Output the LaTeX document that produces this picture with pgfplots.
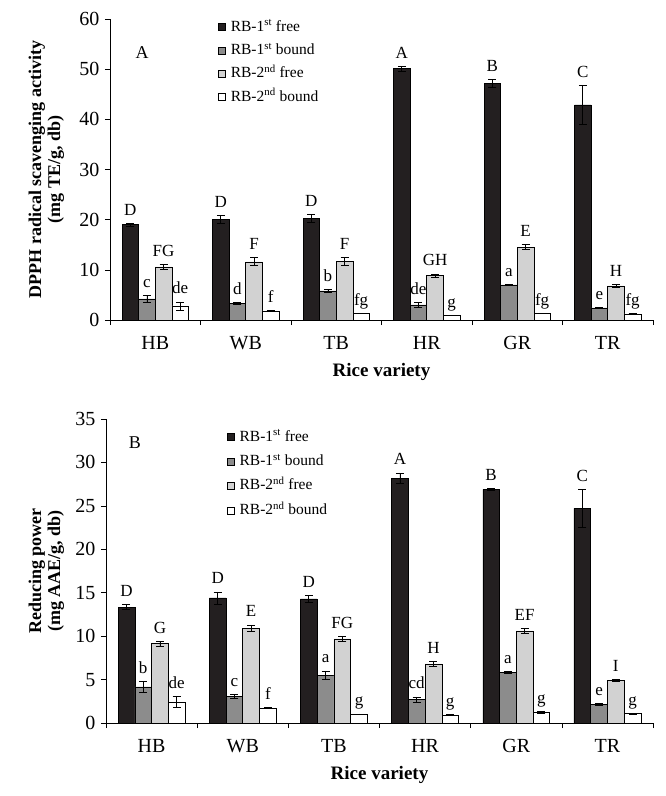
\documentclass[border=0pt]{standalone}
\usepackage{pgfplots}
\pgfplotsset{compat=1.18}
\usepackage{pgfplotstable}
\usepackage{fontspec}
\setmainfont{Liberation Serif}

\definecolor{cfreeA}{HTML}{231F20}
\definecolor{cbndA}{HTML}{8C8C8C}
\definecolor{cfreeB}{HTML}{D2D2D2}

% DPPH (panel A): mean, error, letter for each extract
\pgfplotstableread{
g f1 e1 l1 b1 eb1 lb1 f2 e2 l2 b2 eb2 lb2
1 19.0 0.3 D 4.2 0.7 c 10.6 0.5 FG 2.8 0.8 de
2 20.1 0.8 D 3.3 0.2 d 11.6 0.8 F 1.8 0.1 f
3 20.2 0.8 D 5.8 0.3 b 11.7 0.8 F 1.3 0.05 fg
4 50.1 0.5 A 3.0 0.5 de 8.9 0.3 GH 0.9 0.05 g
5 47.1 0.8 B 7.0 0.1 a 14.5 0.5 E 1.3 0.05 fg
6 42.9 3.9 C 2.4 0.1 e 6.8 0.3 H 1.2 0.1 fg
}\dataA

% Reducing power (panel B)
\pgfplotstableread{
g f1 e1 l1 b1 eb1 lb1 f2 e2 l2 b2 eb2 lb2
1 13.35 0.3 D 4.15 0.6 b 9.13 0.3 G 2.4 0.65 de
2 14.4 0.7 D 3.06 0.2 c 10.9 0.4 E 1.7 0.05 f
3 14.3 0.4 D 5.5 0.5 a 9.7 0.25 FG 1.0 0.05 g
4 28.2 0.6 A 2.7 0.3 cd 6.8 0.3 H 0.9 0.05 g
5 26.9 0.15 B 5.8 0.1 a 10.6 0.3 EF 1.2 0.1 g
6 24.7 2.2 C 2.15 0.1 e 4.9 0.1 I 1.1 0.05 g
}\dataB

\pgfplotsset{
  rbaxis/.style={
    scale only axis,
    axis x line*=bottom, axis y line*=left,
    axis line style={-, black, line width=0.6pt},
    xmin=0.5, xmax=6.5, ymin=0,
    xtick={1,...,6}, xticklabels={HB,WB,TB,HR,GR,TR},
    minor xtick={0.5,1.5,...,6.5},
    major x tick style={draw=none},
    tick align=outside,
    major tick length=5pt, minor tick length=5pt,
    tick style={black, line width=0.6pt},
    /pgf/number format/assume math mode=true,
    tick label style={font=\fontsize{20}{20}\selectfont},
    xticklabel style={yshift=-8pt},
    yticklabel style={xshift=-2pt},
    xlabel={\textbf{Rice variety}},
    xlabel style={at={(axis description cs:0.5,0)}, anchor=center, yshift=-52pt,
      font=\fontsize{19}{19}\selectfont},
    ylabel style={anchor=center, align=center, font=\fontsize{18}{19}\selectfont\bfseries},
    legend cell align=left,
    legend image code/.code={\draw[##1, draw=black, line width=0.5pt] (0pt,-3.5pt) rectangle (7pt,3.5pt);},
    legend style={draw=none, fill=none, inner sep=0pt, column sep=5pt,
      font=\fontsize{15.5}{15.5}\selectfont,
      nodes={inner sep=0pt, text height=11pt, text depth=3pt}},
  },
  rbbar/.style={ybar, bar width=0.1835, bar shift=0pt, draw=black, line width=0.5pt,
    error bars/y dir=both, error bars/y explicit,
    error bars/error bar style={black, line width=0.7pt},
    error bars/error mark options={rotate=90, black, mark size=4pt, line width=0.7pt}},
  rblab/.style={draw=none, forget plot, nodes near coords, point meta=explicit symbolic,
    nodes near coords style={anchor=base, yshift=8pt, inner sep=0pt,
      font=\fontsize{17}{17}\selectfont, text=black}},
}

\begin{document}
\begin{tikzpicture}
\useasboundingbox (0,0) rectangle (666pt,-796pt);

% ---------------- Panel A ----------------
\begin{axis}[rbaxis,
  at={(110pt,-320pt)}, anchor=south west,
  width=543pt, height=301pt,
  ymax=60, ytick distance=10,
  ylabel={DPPH radical scavenging activity\\(mg TE/g, db)},
  ylabel style={at={(axis description cs:-0.117,0.5)}},
  legend style={at={(rel axis cs:0.199,0.997)}, anchor=north west, row sep=9.3pt},
]
\addplot[rbbar, fill=cfreeA] table[x expr=\thisrow{g}-0.2752, y=f1, y error=e1] {\dataA};
\addplot[rbbar, fill=cbndA] table[x expr=\thisrow{g}-0.0917, y=b1, y error=eb1] {\dataA};
\addplot[rbbar, fill=cfreeB] table[x expr=\thisrow{g}+0.0917, y=f2, y error=e2] {\dataA};
\addplot[rbbar, fill=white] table[x expr=\thisrow{g}+0.2752, y=b2, y error=eb2] {\dataA};
\legend{RB-1\textsuperscript{st} free, RB-1\textsuperscript{st} bound, RB-2\textsuperscript{nd} free, RB-2\textsuperscript{nd} bound}
\addplot[rblab] table[x expr=\thisrow{g}-0.2752, y expr=\thisrow{f1}+\thisrow{e1}, meta=l1] {\dataA};
\addplot[rblab] table[x expr=\thisrow{g}-0.0917, y expr=\thisrow{b1}+\thisrow{eb1}, meta=lb1] {\dataA};
\addplot[rblab] table[x expr=\thisrow{g}+0.0917, y expr=\thisrow{f2}+\thisrow{e2}, meta=l2] {\dataA};
\addplot[rblab] table[x expr=\thisrow{g}+0.2752, y expr=\thisrow{b2}+\thisrow{eb2}, meta=lb2] {\dataA};
\node[font=\fontsize{18}{18}\selectfont] at (rel axis cs:0.059,0.887) {A};
\end{axis}

% ---------------- Panel B ----------------
\begin{axis}[rbaxis,
  at={(106pt,-723pt)}, anchor=south west,
  width=547pt, height=304pt,
  ymax=35, ytick distance=5,
  ylabel={Reducing power\\(mg AAE/g, db)},
  ylabel style={at={(axis description cs:-0.109,0.5)}},
  legend style={at={(rel axis cs:0.221,0.964)}, anchor=north west, row sep=10.4pt},
]
\addplot[rbbar, fill=cfreeA] table[x expr=\thisrow{g}-0.2752, y=f1, y error=e1] {\dataB};
\addplot[rbbar, fill=cbndA] table[x expr=\thisrow{g}-0.0917, y=b1, y error=eb1] {\dataB};
\addplot[rbbar, fill=cfreeB] table[x expr=\thisrow{g}+0.0917, y=f2, y error=e2] {\dataB};
\addplot[rbbar, fill=white] table[x expr=\thisrow{g}+0.2752, y=b2, y error=eb2] {\dataB};
\legend{RB-1\textsuperscript{st} free, RB-1\textsuperscript{st} bound, RB-2\textsuperscript{nd} free, RB-2\textsuperscript{nd} bound}
\addplot[rblab] table[x expr=\thisrow{g}-0.2752, y expr=\thisrow{f1}+\thisrow{e1}, meta=l1] {\dataB};
\addplot[rblab] table[x expr=\thisrow{g}-0.0917, y expr=\thisrow{b1}+\thisrow{eb1}, meta=lb1] {\dataB};
\addplot[rblab] table[x expr=\thisrow{g}+0.0917, y expr=\thisrow{f2}+\thisrow{e2}, meta=l2] {\dataB};
\addplot[rblab] table[x expr=\thisrow{g}+0.2752, y expr=\thisrow{b2}+\thisrow{eb2}, meta=lb2] {\dataB};
\node[font=\fontsize{18}{18}\selectfont] at (rel axis cs:0.053,0.921) {B};
\end{axis}
\end{tikzpicture}
\end{document}
